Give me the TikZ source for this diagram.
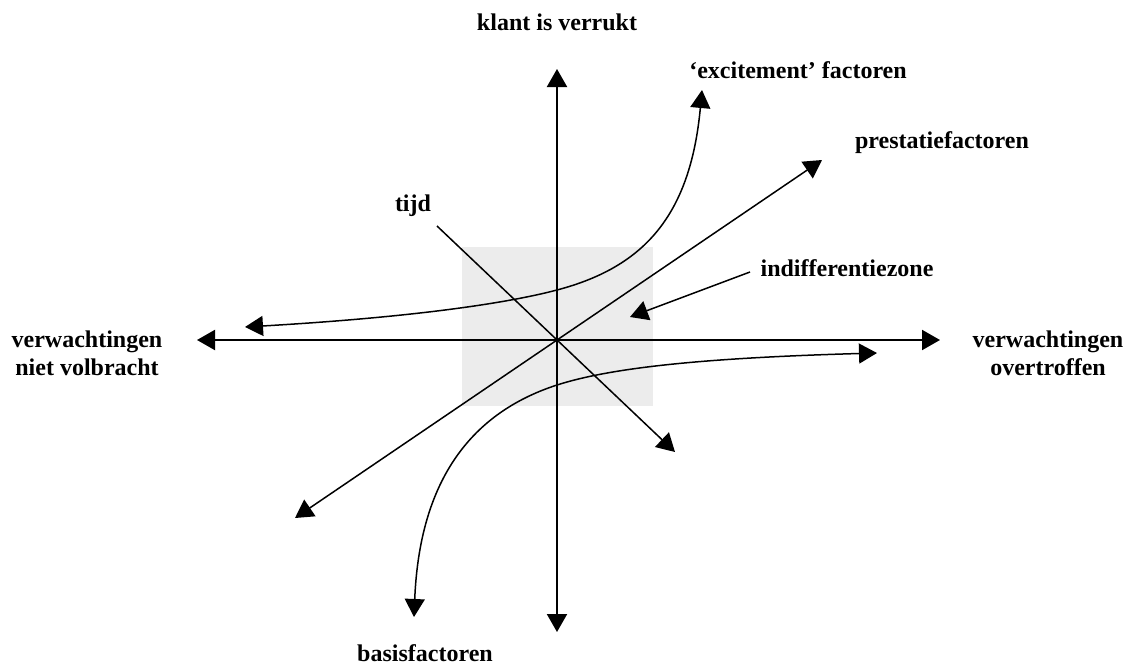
\documentclass[tikz,border=0pt]{standalone}
\usepackage{fontspec}
\setmainfont{Liberation Serif}
\usetikzlibrary{arrows.meta}
\definecolor{ink}{RGB}{0,0,0}
\definecolor{zonefill}{RGB}{236,236,236}
\def\Cx{557}
\def\Cy{340}
\tikzset{
  lbl/.style={font=\fontsize{12}{14}\selectfont\bfseries, align=center, inner sep=0pt},
  zone/.style={fill=zonefill, draw=none, minimum width=95.5pt, minimum height=79.5pt, inner sep=0pt},
  axis/.style={{Triangle[length=9pt,width=10pt]}-{Triangle[length=9pt,width=10pt]}, line width=1pt, draw=ink},
  arr/.style={-{Triangle[length=9pt,width=10pt]}, line width=0.75pt, draw=ink},
  darr/.style={{Triangle[length=9pt,width=10pt]}-{Triangle[length=9pt,width=10pt]}, line width=0.75pt, draw=ink},
}

\begin{document}
\begin{tikzpicture}[x=0.5pt,y=-0.5pt]
  \useasboundingbox (0,0) rectangle (1131,665);

  % indifferentiezone
  \node[zone] (zone) at (557.5,326.5) {};

  % assen
  \coordinate (o) at (\Cx,\Cy);
  \coordinate (xl) at (197,\Cy);
  \coordinate (xr) at (940,\Cy);
  \coordinate (yt) at (\Cx,69);
  \coordinate (yb) at (\Cx,632);
  \draw[axis] (xl) -- (xr);
  \draw[axis] (yb) -- (yt);

  % labels
  \node[lbl] (top) at (557,22) {klant is verrukt};
  \node[lbl] (bot) at (425,653) {basisfactoren};
  \node[lbl] (left) at (87,353) {verwachtingen\\niet volbracht};
  \node[lbl] (right) at (1048,353) {verwachtingen\\overtroffen};
  \node[lbl] (exc) at (798,70) {`excitement' factoren};
  \node[lbl] (pres) at (942,143) {prestatiefactoren};
  \node[lbl] (tijd) at (413,206) {tijd};
  \node[lbl] (ind) at (847,268) {indifferentiezone};

  % tijd
  \coordinate (t1) at (437,226);
  \coordinate (t2) at (675,452);
  \draw[arr] (t1) -- (t2);

  % prestatiefactoren
  \coordinate (p1) at (822,160);
  \coordinate (p2) at (295,518);
  \draw[darr] (p2) -- (p1);

  % excitement factoren
  \coordinate (e1) at (245,327);
  \coordinate (e2) at (702,90);
  \draw[darr]
    (e1) .. controls (400,318) and (500,305) .. (557,290)
         .. controls (640,268) and (690,220) .. (e2);

  % basisfactoren
  \coordinate (b1) at (877,353);
  \coordinate (b2) at (414,617);
  \draw[darr]
    (b1) .. controls (700,358) and (610,368) .. (557,385)
         .. controls (480,410) and (420,470) .. (b2);

  % pijl naar zone
  \coordinate (i1) at (750,272);
  \coordinate (i2) at (630,317);
  \draw[arr] (i1) -- (i2);
\end{tikzpicture}
\end{document}
